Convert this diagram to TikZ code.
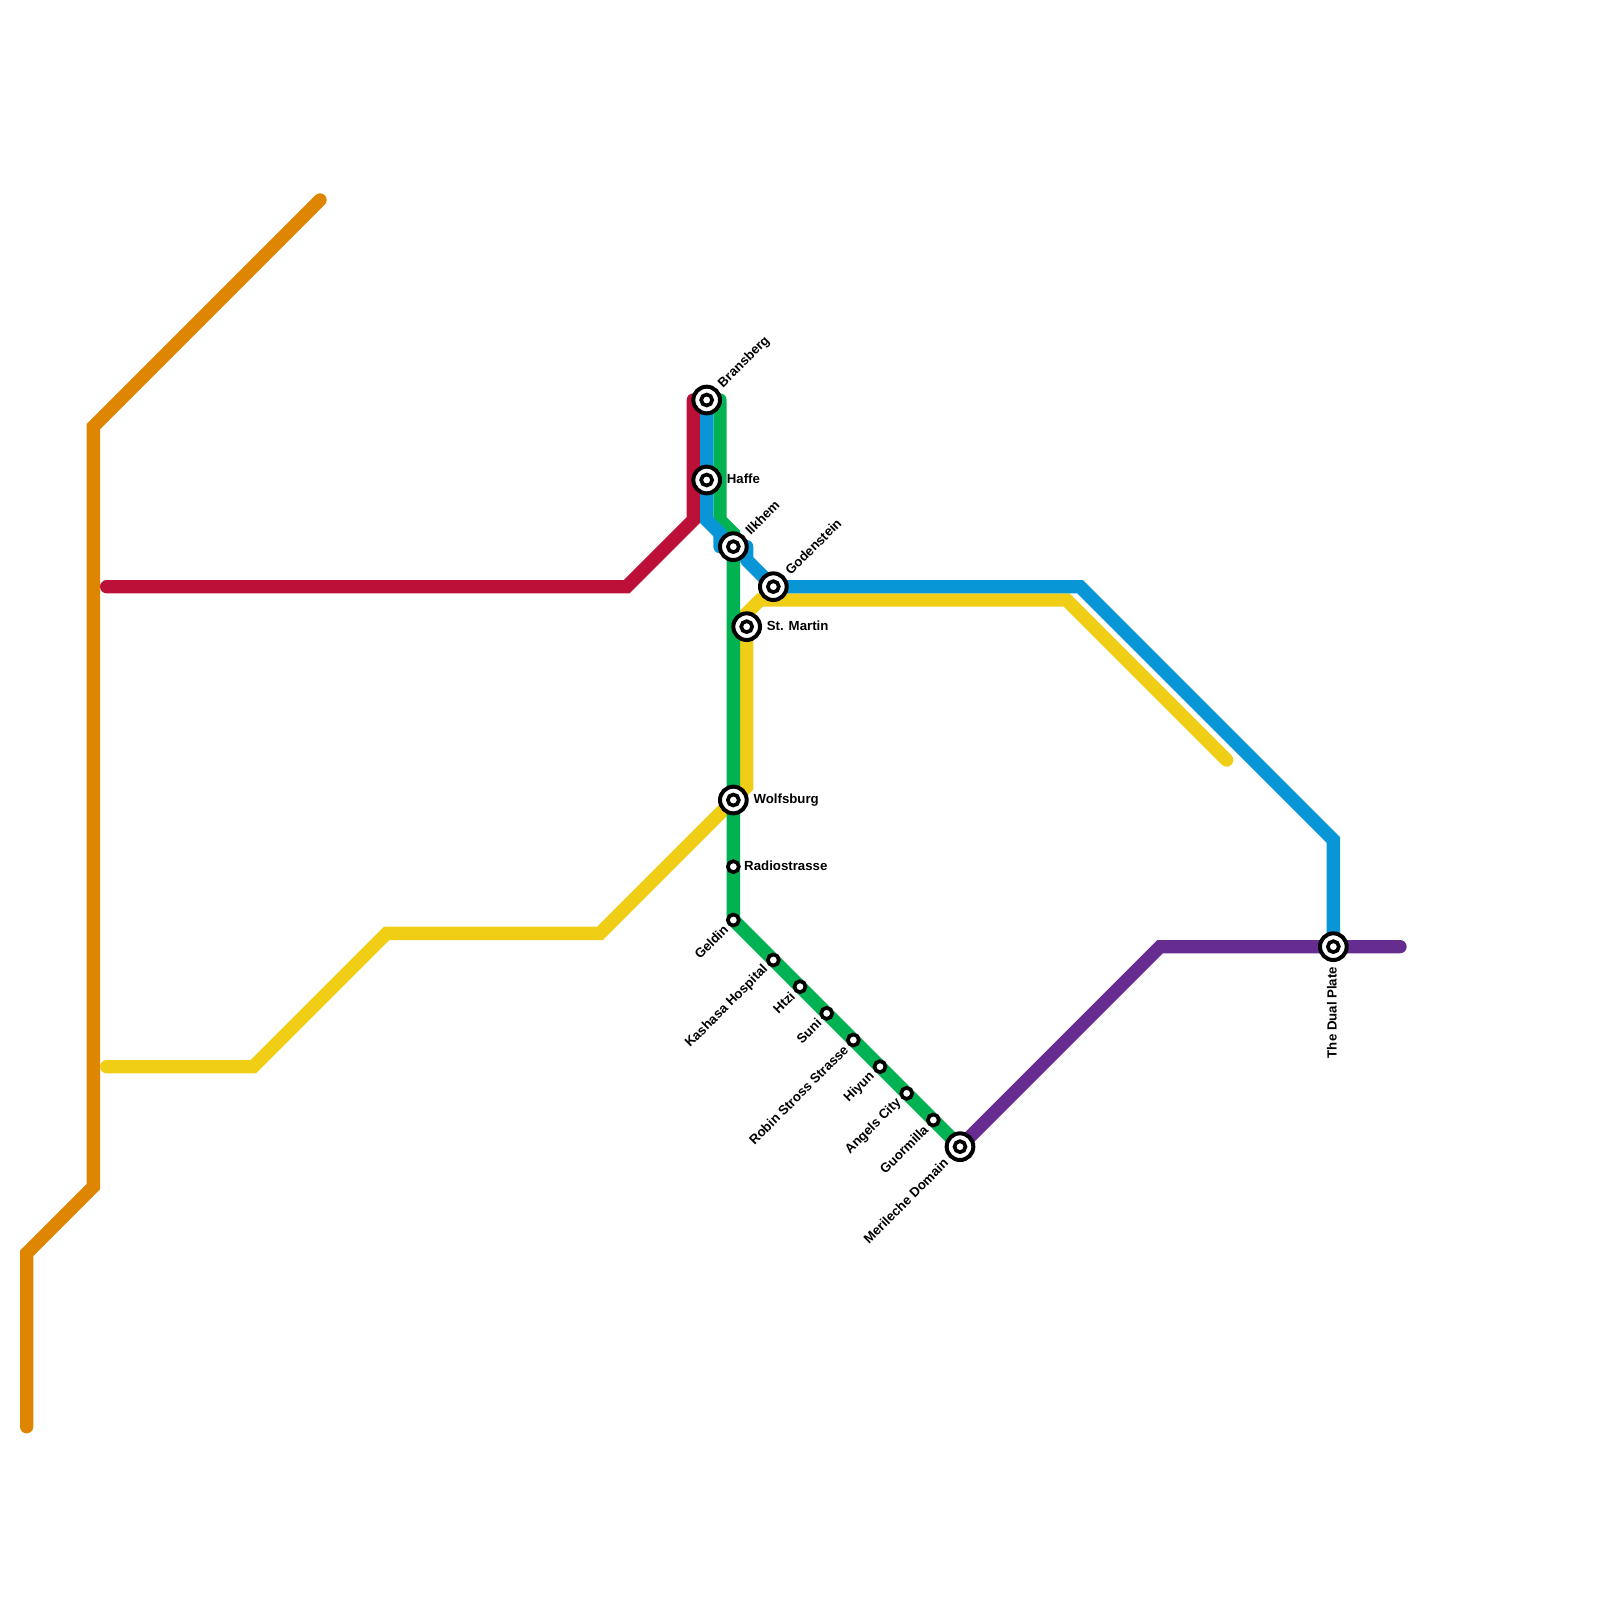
\documentclass[tikz,border=0pt]{standalone}
\usepackage{fontspec}
\setmainfont{Liberation Sans}

\begin{document}
\begin{tikzpicture}[x=0.4cm,y=-0.4cm]
    % Define colours
    \definecolor{orangeLine}{HTML}{DF8600}
    \definecolor{crimsonLine}{HTML}{BD1038}
    \definecolor{yellowLine}{HTML}{F0CE15}
    \definecolor{greenLine}{HTML}{00B251}
    \definecolor{blueLine}{HTML}{0896D7}
    \definecolor{purpleLine}{HTML}{662C90}

    % Define styles
    \tikzset{
        metroline/.style={line width=0.4cm,line cap=round,line join=miter},
        bigstop/.style={circle,draw=black,fill=white,line width=1.2mm,minimum size=8mm,inner sep=0pt,outer sep=0pt},
        bigcore/.style={circle,draw=black,fill=white,line width=1.1mm,minimum size=3.3mm,inner sep=0pt,outer sep=0pt},
        smallstop/.style={circle,draw=black,fill=white,line width=1.1mm,minimum size=3.3mm,inner sep=0pt,outer sep=0pt},
        stoplabel/.style={font=\fontsize{11.3pt}{12pt}\selectfont\bfseries,inner sep=0pt}
    }

    % Fix the page
    \useasboundingbox (0,0) rectangle (120,120);

    % Define the bends of the lines
    \coordinate (orangeA) at (2,107);
    \coordinate (orangeB) at (2,94);
    \coordinate (orangeC) at (7,89);
    \coordinate (orangeD) at (7,32);
    \coordinate (orangeE) at (24,15);

    \coordinate (crimsonA) at (8,44);
    \coordinate (crimsonB) at (47,44);
    \coordinate (crimsonC) at (52,39);
    \coordinate (crimsonD) at (52,30);

    \coordinate (yellowA) at (8,80);
    \coordinate (yellowB) at (19,80);
    \coordinate (yellowC) at (29,70);
    \coordinate (yellowD) at (45,70);
    \coordinate (yellowE) at (56,59);
    \coordinate (yellowF) at (56,46);
    \coordinate (yellowG) at (57,45);
    \coordinate (yellowH) at (80,45);
    \coordinate (yellowI) at (92,57);

    \coordinate (greenA) at (54,30);
    \coordinate (greenB) at (54,39);
    \coordinate (greenC) at (55,40);
    \coordinate (greenD) at (55,69);
    \coordinate (greenE) at (72,86);

    \coordinate (blueA) at (53,30);
    \coordinate (blueB) at (53,39);
    \coordinate (blueC) at (54,40);
    \coordinate (blueD) at (54,41);
    \coordinate (blueE) at (56,41);
    \coordinate (blueF) at (56,42);
    \coordinate (blueG) at (58,44);
    \coordinate (blueH) at (81,44);
    \coordinate (blueI) at (100,63);
    \coordinate (blueJ) at (100,71);

    \coordinate (purpleA) at (72,86);
    \coordinate (purpleB) at (87,71);
    \coordinate (purpleC) at (105,71);

    % Draw the lines
    \draw[metroline,orangeLine] (orangeA) -- (orangeB) -- (orangeC) -- (orangeD) -- (orangeE);
    \draw[metroline,crimsonLine] (crimsonA) -- (crimsonB) -- (crimsonC) -- (crimsonD);
    \draw[metroline,yellowLine] (yellowA) -- (yellowB) -- (yellowC) -- (yellowD) -- (yellowE) -- (yellowF) -- (yellowG) -- (yellowH) -- (yellowI);
    \draw[metroline,greenLine] (greenA) -- (greenB) -- (greenC) -- (greenD) -- (greenE);
    \draw[metroline,blueLine] (blueA) -- (blueB) -- (blueC);
    \draw[metroline,blueLine,line join=round] (blueC) -- (blueD) -- (blueE) -- (blueF) -- (blueG);
    \draw[metroline,blueLine] (blueG) -- (blueH) -- (blueI) -- (blueJ);
    \draw[metroline,purpleLine] (purpleA) -- (purpleB) -- (purpleC);

    % Draw the interchange stops
    \foreach \stop/\x/\y in {bransberg/53/30,haffe/53/36,ilkhem/55/41,godenstein/58/44,martin/56/47,wolfsburg/55/60,merileche/72/86,dualplate/100/71} {
        \node[bigstop] (\stop) at (\x,\y) {};
        \node[bigcore] (\stop-core) at (\stop) {};
    }

    % Draw the plain stops
    \foreach \stop/\x/\y in {radio/55/65,geldin/55/69,kashasa/58/72,htzi/60/74,suni/62/76,robin/64/78,hiyun/66/80,angels/68/82,guormilla/70/84}
        \node[smallstop] (\stop) at (\x,\y) {};

    % Label the stops, up and to the right
    \foreach \stop/\name in {bransberg/Bransberg,ilkhem/Ilkhem,godenstein/Godenstein}
        \node[stoplabel,rotate=45,anchor=west] (\stop-label) at ([shift={(1.05,-1.05)}]\stop) {\name};

    % Label the stops, to the right
    \foreach \stop/\name in {haffe/Haffe,martin/St. Martin,wolfsburg/Wolfsburg}
        \node[stoplabel,anchor=base west] (\stop-label) at ([shift={(1.5,0.25)}]\stop) {\name};
    \node[stoplabel,anchor=base west] (radio-label) at ([shift={(0.8,0.25)}]radio) {Radiostrasse};

    % Label the stops, down and to the left
    \foreach \stop/\name in {geldin/Geldin,kashasa/Kashasa Hospital,htzi/Htzi,suni/Suni,robin/Robin Stross Strasse,hiyun/Hiyun,angels/Angels City,guormilla/Guormilla}
        \node[stoplabel,rotate=45,anchor=east] (\stop-label) at ([shift={(-0.55,0.55)}]\stop) {\name};
    \node[stoplabel,rotate=45,anchor=east] (merileche-label) at ([shift={(-1.05,1.05)}]merileche) {Merileche Domain};

    % Label the last stop
    \node[stoplabel,rotate=90,anchor=east] (dualplate-label) at ([shift={(-0.1,1.5)}]dualplate) {The Dual Plate};

\end{tikzpicture}
\end{document}
